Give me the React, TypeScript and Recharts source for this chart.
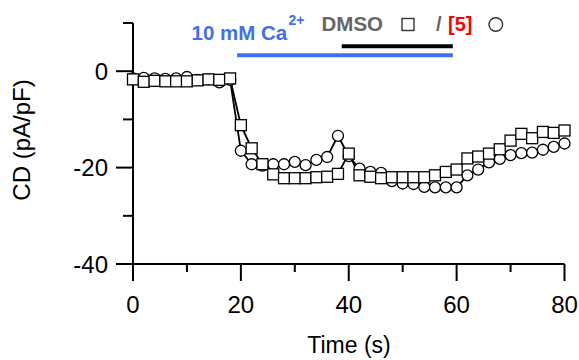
import React from "react";
import { LineChart, Line, XAxis, YAxis, ReferenceLine } from "recharts";

const times = [0, 2, 4, 6, 8, 10, 12, 14, 16, 18, 20, 22, 24, 26, 28, 30, 32, 34, 36, 38, 40, 42, 44, 46, 48, 50, 52, 54, 56, 58, 60, 62, 64, 66, 68, 70, 72, 74, 76, 78, 80];

const dmso = [
  -1.7, -2.2, -2.0, -2.1, -2.1, -2.1, -1.9, -1.7, -1.8, -1.5,
  -11.2, -16.0, -19.3, -21.4, -22.2, -22.2, -22.2, -22.0, -21.9, -21.3,
  -17.1, -21.6, -21.9, -22.2, -22.0, -22.0, -22.0, -22.0, -21.6, -20.9,
  -20.4, -18.1, -17.7, -17.1, -16.2, -14.4, -13.0, -13.9, -12.6, -12.8, -12.3,
];

const cmp5 = [
  -1.5, -1.4, -1.5, -1.6, -1.5, -1.2, -1.8, -1.7, -2.3, -1.8,
  -16.5, -19.3, -19.6, -19.3, -19.3, -18.8, -19.5, -18.4, -17.8, -13.4,
  -17.6, -20.2, -20.9, -21.1, -22.8, -23.3, -23.4, -24.0, -24.1, -24.1,
  -24.1, -21.6, -20.4, -18.9, -18.2, -17.4, -17.0, -16.9, -16.3, -15.7, -15.0,
];

const xTicks = [0, 10, 20, 30, 40, 50, 60, 70, 80];
const xLabeled = [0, 20, 40, 60, 80];
const yTicks = [10, 0, -10, -20, -30, -40];
const yLabeled = [0, -20, -40];

const caBar = { start: 19.3, end: 59.3, y: 3.3 };
const drugBar = { start: 38.7, end: 59.3, y: 5.2 };

const data = times.map((t, i) => ({ t, dmso: dmso[i], cmp5: cmp5[i] }));

const FONT = "'Liberation Sans', Arial, Helvetica, sans-serif";

const XTick = (props: any) => {
  const { x, y, payload } = props;
  const major = xLabeled.includes(payload.value);
  return (
    <g>
      <line x1={x} x2={x} y1={y} y2={y + (major ? 17 : 8)} stroke="#000" strokeWidth={2} />
      {major && (
        <text x={x} y={y + 49} textAnchor="middle" fontSize={24} fontFamily={FONT} fill="#000">
          {payload.value}
        </text>
      )}
    </g>
  );
};

const YTick = (props: any) => {
  const { x, y, payload } = props;
  const major = yLabeled.includes(payload.value);
  return (
    <g>
      <line x1={x} x2={x - (major ? 17 : 10)} y1={y} y2={y} stroke="#000" strokeWidth={2} />
      {major && (
        <text x={x - 25} y={y + 8.5} textAnchor="end" fontSize={24} fontFamily={FONT} fill="#000">
          {payload.value}
        </text>
      )}
    </g>
  );
};

const SquareDot = (props: any) => {
  const { cx, cy, index } = props;
  if (cx == null || cy == null) return <g key={`sq-${index}`} />;
  return (
    <rect key={`sq-${index}`} x={cx - 5.5} y={cy - 5.5} width={11} height={11} fill="#fff" stroke="#000" strokeWidth={1.3} />
  );
};

export default function App() {
  return (
    <div style={{ position: "absolute", left: 0, top: 0, width: 579, height: 360, background: "#fff" }}>
      <LineChart
        width={579}
        height={360}
        data={data}
        margin={{ top: 23, right: 14.5, left: 0, bottom: 0 }}
      >
        <XAxis
          dataKey="t"
          type="number"
          domain={[0, 80]}
          ticks={xTicks}
          interval={0}
          tickSize={0}
          tickMargin={0}
          tickLine={false}
          tick={(p: any) => <XTick {...p} />}
          axisLine={{ stroke: "#000", strokeWidth: 2 }}
          height={96}
        />
        <YAxis
          type="number"
          domain={[-40, 10]}
          ticks={yTicks}
          interval={0}
          tickSize={0}
          tickMargin={0}
          tickLine={false}
          tick={(p: any) => <YTick {...p} />}
          axisLine={{ stroke: "#000", strokeWidth: 2 }}
          width={133}
        />
        <ReferenceLine
          segment={[{ x: caBar.start, y: caBar.y }, { x: caBar.end, y: caBar.y }]}
          stroke="#4170ee"
          strokeWidth={4}
        />
        <ReferenceLine
          segment={[{ x: drugBar.start, y: drugBar.y }, { x: drugBar.end, y: drugBar.y }]}
          stroke="#000"
          strokeWidth={4}
        />
        <Line
          type="linear"
          dataKey="cmp5"
          stroke="#000"
          strokeWidth={1.8}
          dot={{ r: 5.5, fill: "#fff", stroke: "#000", strokeWidth: 1.3 }}
          isAnimationActive={false}
        />
        <Line
          type="linear"
          dataKey="dmso"
          stroke="#000"
          strokeWidth={1.8}
          dot={(p: any) => <SquareDot {...p} />}
          isAnimationActive={false}
        />
      </LineChart>
      <svg
        width={579}
        height={360}
        style={{ position: "absolute", left: 0, top: 0, pointerEvents: "none" }}
      >
        <text
          transform="translate(30,140) rotate(-90)"
          textAnchor="middle"
          fontSize={24}
          fontFamily={FONT}
          fill="#000"
        >
          CD (pA/pF)
        </text>
        <text x={349} y={353} textAnchor="middle" fontSize={23} fontFamily={FONT} fill="#000">
          Time (s)
        </text>
        <text x={191.5} y={39.5} fontSize={20.5} fontWeight="bold" fontFamily={FONT} fill="#4170ee">
          10 mM Ca
        </text>
        <text x={288.5} y={25} fontSize={14} fontWeight="bold" fontFamily={FONT} fill="#4170ee">
          2+
        </text>
        <text x={321.5} y={31} fontSize={20.5} fontWeight="bold" fontFamily={FONT} fill="#666">
          DMSO
        </text>
        <rect x={402} y={18.5} width={12} height={12} fill="#fff" stroke="#333" strokeWidth={1.4} />
        <text x={436} y={31} fontSize={20} fontWeight="bold" fontFamily={FONT} fill="#666">
          /
        </text>
        <text x={448} y={31} fontSize={20} fontWeight="bold" fontFamily={FONT} fill="#ff0000">
          [5]
        </text>
        <circle cx={495.8} cy={24.5} r={6.8} fill="#fff" stroke="#333" strokeWidth={1.4} />
      </svg>
    </div>
  );
}
